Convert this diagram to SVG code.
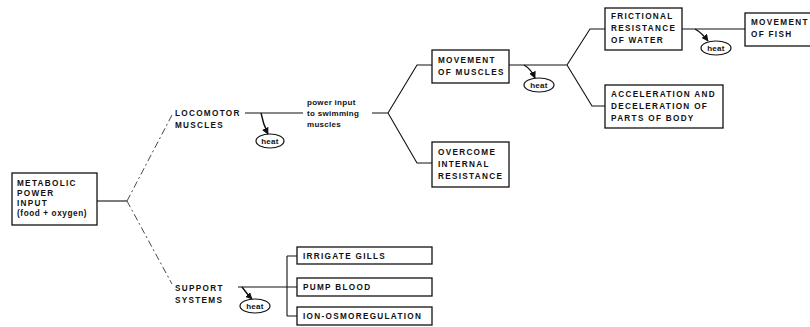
<svg xmlns="http://www.w3.org/2000/svg" width="810" height="327" viewBox="0 0 810 327">
<defs>
<style>
.box{fill:#fff;stroke:#111;stroke-width:1.3}
.t{font-family:"Liberation Sans",Arial,sans-serif;font-weight:bold;font-size:8.2px;letter-spacing:1.3px;fill:#111}
.tl{font-family:"Liberation Sans",Arial,sans-serif;font-weight:bold;font-size:8px;letter-spacing:0.3px;fill:#111}
.ln{fill:none;stroke:#111;stroke-width:1.1}
.dl{fill:none;stroke:#333;stroke-width:0.9;stroke-dasharray:7 3 2 3}
.ha{fill:none;stroke:#111;stroke-width:1.4;marker-end:url(#ah)}
.ell{fill:#fff;stroke:#111;stroke-width:1.2}
</style>
<marker id="ah" viewBox="0 0 10 10" refX="9" refY="5" markerWidth="5" markerHeight="5" orient="auto"><path d="M0,0 L10,5 L0,10 z" fill="#111"/></marker>
</defs>
<rect width="810" height="327" fill="#fff"/>
<g id="connectors">
<path class="ln" d="M97,201 H127"/>
<path class="dl" d="M127,201 L172,115"/>
<path class="dl" d="M127,201 L172,284"/>
<path class="ln" d="M245,113 H303"/>
<path class="ln" d="M372,113 H388 L417,65 H432 M388,113 L417,163 H432"/>
<path class="ln" d="M509,65 H567 L590,29 H605 M567,65 L592,106 H605"/>
<path class="ln" d="M682,29 H745"/>
<path class="ln" d="M238,287 H297 M287,256 V316 M287,256 H297 M287,316 H297"/>
<path class="ha" d="M261,113 Q263,124 268,134"/>
<path class="ha" d="M524,65 Q531,69 535,78"/>
<path class="ha" d="M695,29 Q702,33 708,41"/>
<path class="ha" d="M242,287 Q247,294 252,299"/>
</g>
<g id="heat1"><ellipse class="ell" cx="270" cy="141" rx="14" ry="7"/><text class="tl" x="270" y="143.7" text-anchor="middle">heat</text></g>
<g id="heat2"><ellipse class="ell" cx="539" cy="85" rx="15" ry="7"/><text class="tl" x="539" y="87.7" text-anchor="middle">heat</text></g>
<g id="heat3"><ellipse class="ell" cx="716" cy="48" rx="15" ry="7"/><text class="tl" x="716" y="50.7" text-anchor="middle">heat</text></g>
<g id="heat4"><ellipse class="ell" cx="255" cy="306" rx="15" ry="7"/><text class="tl" x="255" y="308.7" text-anchor="middle">heat</text></g>
<g id="metabolic">
<rect class="box" x="12" y="173" width="85" height="52"/>
<text class="t" x="17" y="186">METABOLIC</text>
<text class="t" x="17" y="196">POWER</text>
<text class="t" x="17" y="206">INPUT</text>
<text class="t" x="17" y="216" style="letter-spacing:0.6px">(food + oxygen)</text>
</g>
<g id="locomotor">
<text class="t" x="175" y="116">LOCOMOTOR</text>
<text class="t" x="175" y="128">MUSCLES</text>
</g>
<g id="power">
<text class="tl" x="307" y="105">power input</text>
<text class="tl" x="307" y="116">to swimming</text>
<text class="tl" x="307" y="127">muscles</text>
</g>
<g id="movmuscles">
<rect class="box" x="432" y="50" width="77" height="33"/>
<text class="t" x="438" y="63">MOVEMENT</text>
<text class="t" x="438" y="75">OF MUSCLES</text>
</g>
<g id="overcome">
<rect class="box" x="432" y="142" width="77" height="45"/>
<text class="t" x="438" y="155">OVERCOME</text>
<text class="t" x="438" y="167">INTERNAL</text>
<text class="t" x="438" y="179">RESISTANCE</text>
</g>
<g id="frictional">
<rect class="box" x="605" y="8" width="77" height="42"/>
<text class="t" x="611" y="19">FRICTIONAL</text>
<text class="t" x="611" y="31">RESISTANCE</text>
<text class="t" x="611" y="43">OF WATER</text>
</g>
<g id="acceleration">
<rect class="box" x="605" y="85" width="118" height="43"/>
<text class="t" x="611" y="97">ACCELERATION AND</text>
<text class="t" x="611" y="109">DECELERATION OF</text>
<text class="t" x="611" y="121">PARTS OF BODY</text>
</g>
<g id="fish">
<rect class="box" x="745" y="13" width="80" height="33"/>
<text class="t" x="751" y="25">MOVEMENT</text>
<text class="t" x="751" y="37">OF FISH</text>
</g>
<g id="support">
<text class="t" x="175" y="291">SUPPORT</text>
<text class="t" x="175" y="303">SYSTEMS</text>
</g>
<g id="gills"><rect class="box" x="297" y="247" width="135" height="17"/><text class="t" x="303" y="258.5">IRRIGATE GILLS</text></g>
<g id="pump"><rect class="box" x="297" y="278" width="135" height="18"/><text class="t" x="303" y="290">PUMP BLOOD</text></g>
<g id="ion"><rect class="box" x="297" y="307" width="135" height="18"/><text class="t" x="303" y="319">ION-OSMOREGULATION</text></g>
</svg>
